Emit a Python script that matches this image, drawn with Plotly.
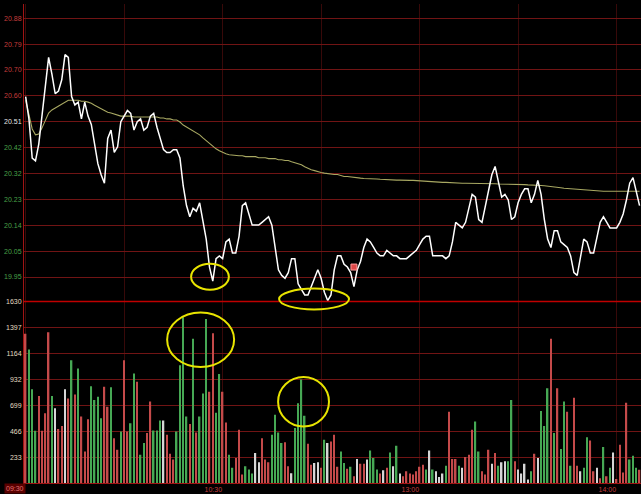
import plotly.graph_objects as go

# ---------------- data (per minute from 09:30) ----------------
minutes = list(range(188))

price = [
    20.60, 20.52, 20.38, 20.37, 20.43, 20.53, 20.63, 20.74, 20.68, 20.61,
    20.62, 20.66, 20.75, 20.74, 20.60, 20.57, 20.58, 20.52, 20.58, 20.53,
    20.50, 20.43, 20.36, 20.32, 20.29, 20.45, 20.48, 20.40, 20.42, 20.51,
    20.53, 20.55, 20.54, 20.48, 20.51, 20.52, 20.48, 20.49, 20.53, 20.54,
    20.49, 20.45, 20.41, 20.40, 20.40, 20.41, 20.41, 20.38, 20.28, 20.21,
    20.17, 20.20, 20.19, 20.22, 20.15, 20.09, 19.99, 19.94, 20.02, 20.03,
    20.02, 20.08, 20.09, 20.04, 20.04, 20.10, 20.21, 20.22, 20.18, 20.14,
    20.14, 20.14, 20.15, 20.16, 20.17, 20.14, 20.05, 19.98, 19.96, 19.95,
    19.97, 20.02, 20.02, 19.93, 19.91, 19.89, 19.89, 19.92, 19.95, 19.98,
    19.95, 19.90, 19.87, 19.89, 19.98, 20.03, 20.03, 20.00, 19.99, 19.97,
    19.92, 19.98, 20.01, 20.06, 20.09, 20.08, 20.06, 20.04, 20.03, 20.03,
    20.05, 20.04, 20.03, 20.03, 20.02, 20.02, 20.02, 20.03, 20.04, 20.05,
    20.07, 20.09, 20.10, 20.10, 20.03, 20.03, 20.03, 20.03, 20.02, 20.03,
    20.08, 20.15, 20.14, 20.13, 20.15, 20.20, 20.25, 20.24, 20.16, 20.15,
    20.21, 20.27, 20.32, 20.35, 20.29, 20.24, 20.25, 20.23, 20.16, 20.17,
    20.22, 20.25, 20.27, 20.27, 20.22, 20.25, 20.30, 20.25, 20.16, 20.09,
    20.06, 20.12, 20.12, 20.08, 20.07, 20.06, 20.03, 19.97, 19.96, 20.02,
    20.09, 20.08, 20.04, 20.04, 20.09, 20.15, 20.17, 20.15, 20.13, 20.13,
    20.13, 20.15, 20.18, 20.23, 20.29, 20.31, 20.26, 20.21,
]

avg_price = [
    20.587, 20.534, 20.484, 20.463, 20.466, 20.488, 20.516, 20.541, 20.552, 20.559,
    20.566, 20.576, 20.583, 20.587, 20.587, 20.587, 20.587, 20.583, 20.583, 20.580,
    20.576, 20.569, 20.562, 20.555, 20.548, 20.544, 20.541, 20.537, 20.534, 20.530,
    20.530, 20.530, 20.530, 20.527, 20.527, 20.527, 20.527, 20.527, 20.527, 20.527,
    20.527, 20.523, 20.523, 20.520, 20.520, 20.516, 20.516, 20.509, 20.498, 20.491,
    20.484, 20.477, 20.470, 20.463, 20.452, 20.442, 20.431, 20.420, 20.413, 20.406,
    20.399, 20.395, 20.392, 20.390, 20.388, 20.388, 20.388, 20.385, 20.385, 20.385,
    20.385, 20.381, 20.381, 20.381, 20.378, 20.378, 20.378, 20.374, 20.374, 20.371,
    20.371, 20.367, 20.363, 20.360, 20.356, 20.349, 20.342, 20.338, 20.335, 20.331,
    20.328, 20.326, 20.324, 20.322, 20.321, 20.321, 20.317, 20.314, 20.314, 20.312,
    20.310, 20.310, 20.308, 20.307, 20.307, 20.306, 20.305, 20.305, 20.304, 20.303,
    20.303, 20.302, 20.302, 20.301, 20.301, 20.300, 20.300, 20.300, 20.300, 20.299,
    20.298, 20.298, 20.297, 20.296, 20.296, 20.295, 20.294, 20.293, 20.293, 20.292,
    20.292, 20.291, 20.291, 20.290, 20.290, 20.290, 20.290, 20.289, 20.289, 20.289,
    20.289, 20.288, 20.288, 20.288, 20.287, 20.287, 20.287, 20.286, 20.286, 20.286,
    20.285, 20.285, 20.285, 20.284, 20.284, 20.284, 20.282, 20.282, 20.281, 20.280,
    20.279, 20.277, 20.275, 20.274, 20.272, 20.271, 20.270, 20.268, 20.267, 20.266,
    20.265, 20.264, 20.263, 20.262, 20.262, 20.261, 20.261, 20.261, 20.261, 20.261,
    20.261, 20.261, 20.261, 20.261, 20.261, 20.261, 20.261, 20.261,
]

volume = [
    1341, 1198, 841, 469, 781, 469, 626, 1355, 781, 671,
    484, 513, 841, 760, 1102, 796, 1028, 597, 284, 573,
    870, 745, 775, 582, 865, 686, 859, 403, 299, 463,
    1102, 463, 537, 984, 909, 254, 359, 448, 731, 472,
    472, 561, 561, 433, 263, 210, 463, 1058, 1489, 597,
    531, 1296, 454, 597, 805, 1474, 820, 1346, 632, 978,
    820, 543, 254, 136, 225, 478, 76, 150, 121, 85,
    270, 186, 403, 210, 186, 433, 612, 454, 359, 365,
    150, 88, 493, 716, 930, 603, 353, 165, 180, 186,
    136, 388, 359, 373, 433, 145, 284, 180, 127, 145,
    61, 216, 174, 174, 210, 293, 225, 121, 85, 114,
    136, 275, 150, 335, 85, 61, 105, 85, 76, 105,
    145, 165, 121, 293, 121, 105, 55, 85, 156, 641,
    216, 216, 156, 136, 234, 254, 478, 552, 284, 105,
    76, 299, 174, 270, 156, 186, 195, 195, 745, 195,
    121, 85, 174, 31, 105, 263, 225, 647, 513, 850,
    1296, 448, 850, 305, 731, 641, 156, 766, 156, 105,
    136, 412, 382, 105, 136, 43, 323, 61, 136, 275,
    37, 344, 95, 721, 210, 245, 136, 120,
]

# r = up (red), g = down (green), w = unchanged (white)
vol_dir = list(
    "rgggrrrrgw" "rrwrgrgrrr" "ggggrrgrrg" "rrggrggrrg"
    "ggwrrrgggg" "rgrgggrrgg" "rrggrrrggg" "wwrrrggggr"
    "rwggggrrww" "rgwrrrggrg" "rwrrwgggrw" "rgwgwrrrrr"
    "rrgwgwwwgr" "rrgwrrrggr" "rrwrgwwggr" "wwwwgrwggg"
    "rgrggrgrrw" "ggrrwrgrgw" "rrrrgggr"
)

prev_close = 20.51
price_step = 0.0926
price_labels = ["19.95", "20.05", "20.14", "20.23", "20.32", "20.42",
                "20.51", "20.60", "20.70", "20.79", "20.88"]
price_steps = list(range(-6, 5))
vol_ticks = [233, 466, 699, 932, 1164, 1397, 1630]
vol_labels = ["233", "466", "699", "932", "1164", "1397", "1630"]
time_ticks = [0, 30, 60, 90, 120, 150, 180]
time_labels = ["", "", "10:30", "", "13:00", "", "14:00"]

flag_time = [100]
flag_price = [19.99]

# ---------------- styling ----------------
RED_TXT = "#c43c3c"
GREEN_TXT = "#48a048"
WHITE_TXT = "#e6e6e6"
VOL_TXT = "#e2dcc0"
GRID = "#701414"
VGRID = "#380909"
AXIS = "#a01414"
dir_colors = {"r": "#c44a4a", "g": "#46a854", "w": "#d6d6d6"}

price_tickvals = [prev_close + k * price_step for k in price_steps]
price_ticktext = []
for k, lab in zip(price_steps, price_labels):
    c = RED_TXT if k > 0 else (WHITE_TXT if k == 0 else GREEN_TXT)
    price_ticktext.append(f"<span style='color:{c}'>{lab}</span>")

H_PLOT = 483.0
split = (H_PLOT - 300.0) / H_PLOT

fig = go.Figure()

fig.add_trace(go.Bar(
    x=minutes, y=volume, yaxis="y2", xaxis="x",
    marker=dict(color=[dir_colors[d] for d in vol_dir], line=dict(width=0)),
    width=0.45, showlegend=False, hoverinfo="skip",
))

fig.add_trace(go.Scatter(
    x=minutes, y=avg_price, mode="lines", yaxis="y", xaxis="x",
    line=dict(color="#a8a862", width=1.1), showlegend=False,
))
fig.add_trace(go.Scatter(
    x=minutes, y=price, mode="lines", yaxis="y", xaxis="x",
    line=dict(color="#ffffff", width=1.5), showlegend=False,
))
fig.add_trace(go.Scatter(
    x=flag_time, y=flag_price, mode="markers", yaxis="y", xaxis="x",
    marker=dict(symbol="square", size=6, color="#e04848",
                line=dict(color="#ff9a9a", width=1)),
    showlegend=False,
))

x0 = -0.5
px_per_min = 3.283
x1 = x0 + 617 / px_per_min

ell = dict(type="circle", xref="x", yref="paper",
           line=dict(color="#e8e400", width=2), fillcolor="rgba(0,0,0,0)", layer="above")
shapes = [
    dict(type="line", xref="paper", yref="paper", x0=0, x1=1, y0=split, y1=split,
         line=dict(color="#c00000", width=1.5)),
    dict(ell, x0=50.4, x1=61.9, y0=0.4037, y1=0.4576),
    dict(ell, x0=77.2, x1=98.5, y0=0.3623, y1=0.4058),
    dict(ell, x0=43.1, x1=63.5, y0=0.2422, y1=0.3561),
    dict(ell, x0=76.9, x1=92.4, y0=0.1180, y1=0.2215),
]

fig.update_layout(
    width=641, height=494,
    margin=dict(l=24, r=0, t=0, b=11),
    paper_bgcolor="#000000", plot_bgcolor="#000000",
    font=dict(family="Liberation Sans, Arial, sans-serif", size=7, color=WHITE_TXT),
    showlegend=False,
    xaxis=dict(
        domain=[0, 1], anchor="y2", range=[x0, x1],
        tickmode="array", tickvals=time_ticks, ticktext=time_labels,
        ticklabelposition="outside left",
        tickfont=dict(color=RED_TXT, size=7),
        showgrid=True, gridcolor=VGRID, gridwidth=1,
        showline=True, linecolor=AXIS, linewidth=1,
        ticks="", zeroline=False, fixedrange=True,
    ),
    yaxis=dict(
        domain=[split, 1], anchor="x", range=[19.8667, 20.9311],
        tickmode="array", tickvals=price_tickvals, ticktext=price_ticktext,
        showgrid=True, gridcolor=GRID, gridwidth=1,
        showline=True, linecolor=AXIS, linewidth=1,
        ticks="", zeroline=False,
    ),
    yaxis2=dict(
        domain=[0, split], anchor="x", range=[0, 1630],
        tickmode="array", tickvals=vol_ticks, ticktext=vol_labels,
        tickfont=dict(color=VOL_TXT, size=7),
        showgrid=True, gridcolor=GRID, gridwidth=1,
        showline=True, linecolor=AXIS, linewidth=1,
        ticks="", zeroline=False,
    ),
    shapes=shapes,
    annotations=[dict(
        x=0, xref="x", y=0, yref="paper", yanchor="top", xanchor="right",
        text="09:30", showarrow=False, bgcolor="#5a0000",
        font=dict(color="#e07070", size=7), borderpad=1,
    )],
)

fig.write_html(
    "out.html",
    config={"displayModeBar": False},
    post_script="document.body.style.margin='0px';document.body.style.overflow='hidden';",
)
